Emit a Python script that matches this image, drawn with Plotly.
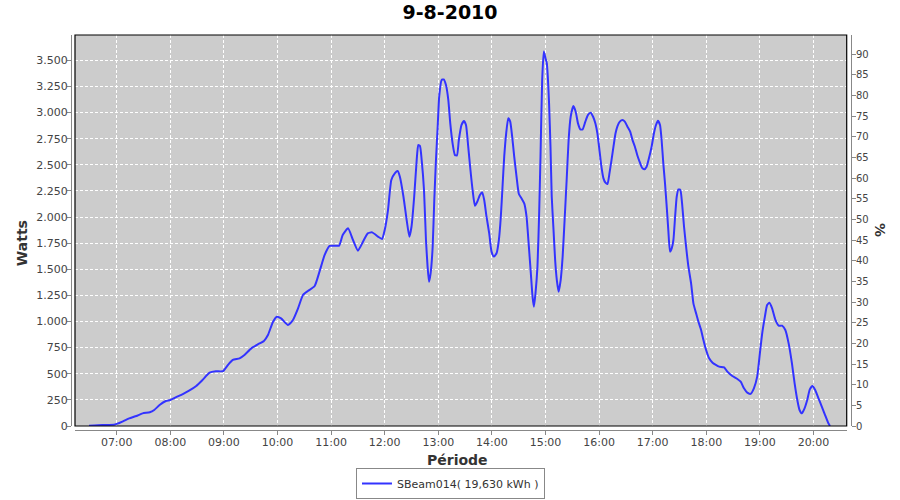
import pandas as pd
import plotly.graph_objects as go

# ---- data: minutes after midnight and power (W) ----
minutes_morning = [389, 404, 417, 420, 427, 434, 442, 449, 457, 462, 468, 475, 480, 486, 494, 501, 509, 516, 524, 531, 539]
watts_morning = [3, 10, 12, 20, 45, 73, 96, 121, 131, 153, 201, 239, 249, 274, 306, 338, 383, 440, 510, 523, 525]

minutes_late_morning = [544.5, 550, 557.5, 563, 570.6, 578, 584.8, 589.3, 595, 599.4, 604, 611.7, 617.3, 623, 628.5,
                        634, 641.6, 647, 652.8, 658.4, 664, 669, 673, 679, 684.5, 690, 695.7, 701, 706, 712.5,
                        717, 720, 723.7, 727.4]
watts_late_morning = [584, 632, 648, 680, 743, 782, 814, 871, 998, 1046, 1030, 967, 1015, 1126, 1254,
                      1292, 1340, 1477, 1637, 1723, 1726, 1726, 1828, 1892, 1780, 1678, 1764, 1844, 1853, 1812,
                      1790, 1876, 2067, 2354]

minutes_midday = [731.5, 734.5, 737, 741, 744.6, 747.6, 750, 753, 755.8, 757.6, 759.5, 761.4, 764, 766.2, 768,
                  769.6, 771.4, 773.7, 775.5, 777.4, 779.3, 781, 783.7, 786, 788.6, 791.2, 793.4, 796, 798.6, 800.9,
                  803, 806, 808.7, 811, 813.5, 816, 818.4, 821, 823.6, 826.6, 829.2, 831.4, 834, 837, 839.6,
                  842.2, 845.2, 847.8, 850, 851.9, 853.8, 856, 858.3, 860.5, 862.7, 865, 867.6, 870.2, 873.2, 876.2,
                  878.8, 881.4, 883.6, 885.5, 887, 888.8, 891, 892.9, 894.4, 896.3, 898.1, 900, 901.5, 902.6, 904,
                  905.6, 907, 909, 910.8, 912.7]
watts_midday = [2420, 2440, 2385, 2194, 1971, 1812, 1907, 2194, 2545, 2690, 2680, 2545, 2258, 1780, 1525,
                1381, 1461, 1716, 2163, 2545, 2864, 3152, 3311, 3317, 3263, 3120, 2896, 2705, 2594, 2590,
                2737, 2881, 2919, 2881, 2673, 2450, 2258, 2108, 2146, 2210, 2236, 2163, 2003, 1844, 1669,
                1621, 1653, 1780, 2003, 2290, 2578, 2801, 2945, 2913, 2769, 2578, 2386, 2220, 2178, 2130,
                2003, 1716, 1461, 1238, 1142, 1270, 1525, 2035, 2578, 3311, 3583, 3520, 3471, 3343, 3088,
                2673, 2194, 1875, 1589, 1397]

minutes_afternoon = [914.7, 917, 919.2, 921.4, 923.7, 925.9, 928.2, 931.2, 933.8, 936.4, 939, 941.6, 944.6, 947.6,
                     950.6, 953.3, 955.9, 958.1, 960.4, 962.6, 964.9, 967.1, 969.4, 971.6, 973.9, 976.1, 978.4,
                     980.6, 983.2, 986.2, 988.8, 991.8, 994.8, 997.4, 1000.1, 1002.7, 1005.3, 1008, 1010.6, 1013.2,
                     1015.8, 1018.8, 1021.4, 1023.7, 1025.9, 1028.2, 1030, 1031.9, 1033.8, 1035.7, 1037.5, 1039.4,
                     1041.3, 1043.2, 1045.1, 1046.9, 1048.8, 1051, 1052.9, 1055.1, 1057.4, 1060, 1063, 1065.6,
                     1068.6, 1071.2, 1074.2, 1076.8, 1079.8, 1083.2, 1087, 1090.7]
watts_afternoon = [1286, 1397, 1621, 1971, 2354, 2737, 2960, 3062, 3008, 2896, 2839, 2839, 2913, 2977,
                   2999, 2960, 2896, 2801, 2641, 2482, 2370, 2329, 2316, 2418, 2545, 2673, 2801,
                   2871, 2913, 2928, 2913, 2864, 2817, 2737, 2673, 2594, 2530, 2473, 2457, 2482,
                   2562, 2673, 2801, 2881, 2922, 2881, 2737, 2513, 2322, 2099, 1875, 1669,
                   1700, 1780, 2003, 2194, 2264, 2258, 2130, 1907, 1716, 1525, 1365, 1174,
                   1078, 998, 919, 823, 727, 648, 606, 585]

minutes_evening = [1094.4, 1100, 1103.6, 1109.2, 1114.8, 1118.5, 1122.2, 1125.9, 1129.6, 1133.3, 1137, 1140,
                   1142.6, 1145.6, 1148.1, 1150.7, 1153.7, 1157.4, 1161.1, 1164.8, 1168.5, 1172.2, 1175.9,
                   1178.9, 1181.9, 1184.4, 1187, 1190, 1193, 1195.9, 1198.9, 1201.9, 1205.6, 1209.3, 1213,
                   1216.7, 1218.5]
watts_evening = [568, 561, 520, 478, 450, 424, 361, 319, 308, 361, 472, 695,
                 886, 1046, 1158, 1180, 1126, 1015, 960, 960, 919, 791, 600,
                 408, 249, 153, 121, 169, 249, 351, 383, 345, 265, 185, 105,
                 26, 0]

series_name = "SBeam014( 19,630 kWh )"
chart_title = "9-8-2010"
x_title = "Période"
y_title = "Watts"
y2_title = "%"
day = "2010-08-09"
x_range = ["2010-08-09 06:13:18", "2010-08-09 20:37:12"]
y_range = [0, 3742]
y2_range = [0, 94.6]

minutes = minutes_morning + minutes_late_morning + minutes_midday + minutes_afternoon + minutes_evening
watts = watts_morning + watts_late_morning + watts_midday + watts_afternoon + watts_evening
assert len(minutes) == len(watts), (len(minutes), len(watts))

times = pd.Timestamp(day) + pd.to_timedelta(minutes, unit="min")

fig = go.Figure()
fig.add_trace(go.Scatter(
    x=times, y=watts, mode="lines", name=series_name,
    line=dict(color="#3333FF", width=2, shape="spline", smoothing=0.5),
))
fig.add_trace(go.Scatter(x=[], y=[], yaxis="y2", showlegend=False, hoverinfo="skip"))

font = "DejaVu Sans"
tick_font = dict(family=font, size=11, color="#444444")
axis_title_font = dict(family=font, size=14, color="#333333")

fig.update_layout(
    width=900, height=500, autosize=False,
    paper_bgcolor="white", plot_bgcolor="#CCCCCC",
    separators=",.",
    margin=dict(l=71, r=49, t=35, b=70, pad=0, autoexpand=False),
    title=dict(text="<b>" + chart_title + "</b>", x=0.5, xref="container", xanchor="center",
               y=0.975, yref="container", yanchor="middle",
               font=dict(family=font, size=19, color="black")),
    xaxis=dict(
        domain=[0.00513, 0.99449], anchor="free", position=0,
        type="date", range=x_range, tickformat="%H:%M", dtick=3600000,
        tick0="2010-08-09 07:00",
        showline=True, linecolor="#888888", linewidth=1,
        ticks="outside", ticklen=4, tickcolor="#888888", ticklabelstandoff=-2,
        showgrid=True, gridcolor="white", gridwidth=1, griddash="3px,2px",
        zeroline=False, tickfont=tick_font,
    ),
    yaxis=dict(
        domain=[0.01013, 1], anchor="free", position=0,
        range=y_range, dtick=250, tick0=0, tickformat=",d",
        showline=True, linecolor="#888888", linewidth=1,
        ticks="outside", ticklen=4, tickcolor="#888888", ticklabelstandoff=-3,
        showgrid=True, gridcolor="white", gridwidth=1, griddash="3px,2px",
        zeroline=False, tickfont=tick_font,
    ),
    yaxis2=dict(
        domain=[0.01013, 1], anchor="free", position=1, overlaying="y", side="right",
        range=y2_range, dtick=5, tick0=0,
        showline=True, linecolor="#888888", linewidth=1,
        ticks="outside", ticklen=4, tickcolor="#888888", ticklabelstandoff=-2,
        showgrid=False, zeroline=False,
        tickfont=dict(family=font, size=10, color="#444444"),
    ),
    legend=dict(
        orientation="h", x=0.4865, xanchor="center", y=-0.0962, yanchor="top",
        bordercolor="#888888", borderwidth=1, bgcolor="white",
        font=dict(family=font, size=11, color="#333333"),
        itemwidth=30, tracegroupgap=0,
    ),
    shapes=[dict(type="rect", xref="x domain", yref="y domain", x0=0, x1=1, y0=0, y1=1,
                 line=dict(color="black", width=1.2), layer="above")],
    annotations=[
        dict(text="<b>" + y_title + "</b>", xref="paper", yref="paper", x=-0.0628, y=0.473,
             textangle=-90, showarrow=False, font=axis_title_font, xanchor="center", yanchor="middle"),
        dict(text="<b>" + x_title + "</b>", xref="paper", yref="paper", x=0.4955, y=-0.0759,
             showarrow=False, font=axis_title_font, xanchor="center", yanchor="middle"),
        dict(text="<b>" + y2_title + "</b>", xref="paper", yref="paper", x=1.0372, y=0.506,
             textangle=90, showarrow=False, font=axis_title_font, xanchor="center", yanchor="middle"),
    ],
    showlegend=True,
)

fig.write_html("out.html", config={"displayModeBar": False},
               post_script="document.body.style.margin='0px';")
